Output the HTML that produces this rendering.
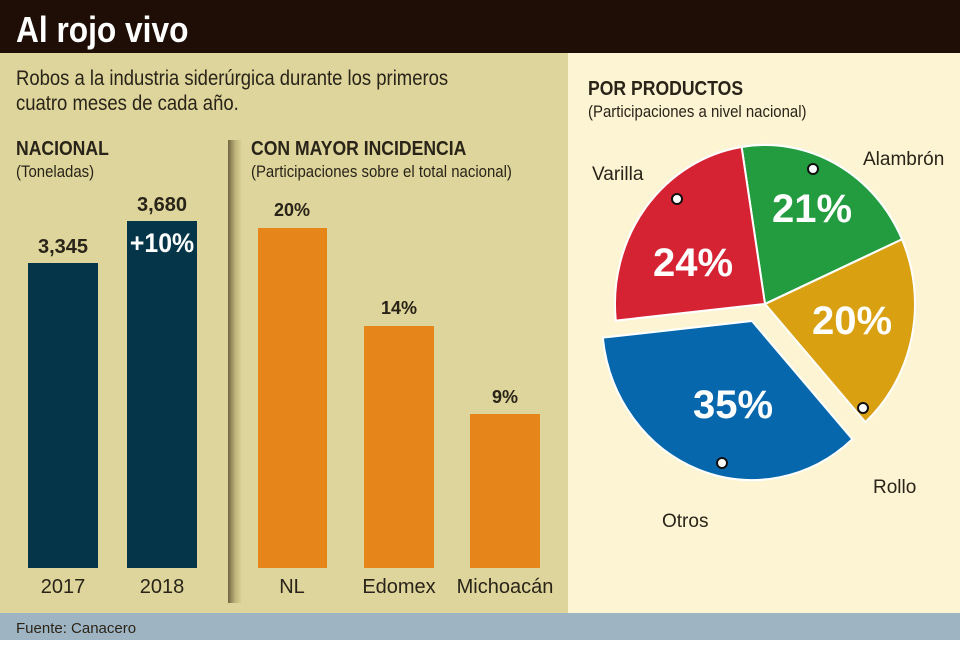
<!DOCTYPE html>
<html><head><meta charset="utf-8"><style>
body{margin:0;width:960px;height:640px;overflow:hidden;font-family:"Liberation Sans",sans-serif;}
svg text{font-family:"Liberation Sans",sans-serif;}
</style></head><body>
<svg width="960" height="640" viewBox="0 0 960 640" xmlns="http://www.w3.org/2000/svg">
<defs>
<linearGradient id="sep" x1="0" x2="1"><stop offset="0" stop-color="#6e6540"/><stop offset="0.5" stop-color="#bdb27a"/><stop offset="1" stop-color="#ddd49a"/></linearGradient>
</defs>
<rect x="0" y="0" width="960" height="640" fill="#fdf4d4"/>
<rect x="0" y="0" width="960" height="53" fill="#1f0e06"/>
<rect x="0" y="53" width="568" height="560" fill="#ddd59b"/>
<rect x="0" y="613" width="960" height="27" fill="#9fb4c3"/>
<text x="16" y="42" fill="#fff" font-size="36" font-weight="bold" transform="translate(16 0) scale(0.88 1) translate(-16 0)">Al rojo vivo</text>
<g fill="#2a2418" font-size="21" transform="translate(16 0) scale(0.88 1) translate(-16 0)">
<text x="16" y="85">Robos a la industria siderúrgica durante los primeros</text>
<text x="16" y="110">cuatro meses de cada año.</text>
</g>
<g transform="translate(16 0) scale(0.88 1) translate(-16 0)" fill="#2a2418">
<text x="16" y="155" font-size="20" font-weight="bold">NACIONAL</text>
<text x="16" y="177" font-size="17">(Toneladas)</text>
</g>
<g transform="translate(251 0) scale(0.88 1) translate(-251 0)" fill="#2a2418">
<text x="251" y="155" font-size="20" font-weight="bold">CON MAYOR INCIDENCIA</text>
<text x="251" y="177" font-size="17">(Participaciones sobre el total nacional)</text>
</g>
<rect x="228" y="140" width="14" height="463" fill="url(#sep)"/>
<rect x="28" y="263" width="70" height="305" fill="#053549"/>
<rect x="127" y="221" width="70" height="347" fill="#053549"/>
<text x="63" y="253" font-size="20" text-anchor="middle" fill="#2a2418" font-weight="bold">3,345</text>
<text x="162" y="211" font-size="20" text-anchor="middle" fill="#2a2418" font-weight="bold">3,680</text>
<text x="162" y="252" font-size="27" text-anchor="middle" fill="#fff" font-weight="bold" transform="translate(162 0) scale(0.92 1) translate(-162 0)">+10%</text>
<rect x="258" y="228" width="69" height="340" fill="#e5851a"/>
<rect x="364" y="326" width="70" height="242" fill="#e5851a"/>
<rect x="470" y="414" width="70" height="154" fill="#e5851a"/>
<g font-size="18" text-anchor="middle" fill="#2a2418" font-weight="bold">
<text x="292" y="216">20%</text><text x="399" y="314">14%</text><text x="505" y="403">9%</text>
</g>
<g font-size="20" text-anchor="middle" fill="#2a2418">
<text x="63" y="593">2017</text><text x="162" y="593">2018</text>
<text x="292" y="593">NL</text><text x="399" y="593">Edomex</text><text x="505" y="593">Michoacán</text>
</g>
<text x="16" y="633" font-size="15" fill="#2a2418">Fuente: Canacero</text>
<g transform="translate(588 0) scale(0.88 1) translate(-588 0)" fill="#2a2418">
<text x="588" y="95" font-size="20" font-weight="bold">POR PRODUCTOS</text>
<text x="588" y="117" font-size="17">(Participaciones a nivel nacional)</text>
</g>
<g stroke="#fff" stroke-width="2" transform="translate(0 304) scale(1 1.06) translate(0 -304)">
<path d="M765,304 L741.6,155.8 A150,150 0 0 1 902,243 Z" fill="#239b3f"/>
<path d="M765,304 L902,243 A150,150 0 0 1 865.4,415.5 Z" fill="#d9a012"/>
<path d="M765,304 L615.8,319.7 A150,150 0 0 1 741.6,155.8 Z" fill="#d62333"/>
<path d="M752,320 L852.4,431.5 A150,150 0 0 1 602.8,335.7 Z" fill="#0767ad"/>
</g>
<g font-size="40" font-weight="bold" fill="#fff" text-anchor="middle">
<text x="812" y="222">21%</text><text x="693" y="276">24%</text>
<text x="852" y="334">20%</text><text x="733" y="418">35%</text>
</g>
<g fill="#fff" stroke="#111" stroke-width="2">
<circle cx="677" cy="199" r="5"/><circle cx="813" cy="169" r="5"/>
<circle cx="863" cy="408" r="5"/><circle cx="722" cy="463" r="5"/>
</g>
<g font-size="19" fill="#2a2418">
<text x="592" y="180">Varilla</text><text x="863" y="165">Alambrón</text>
<text x="873" y="493">Rollo</text><text x="662" y="527">Otros</text>
</g>
</svg>
</body></html>
